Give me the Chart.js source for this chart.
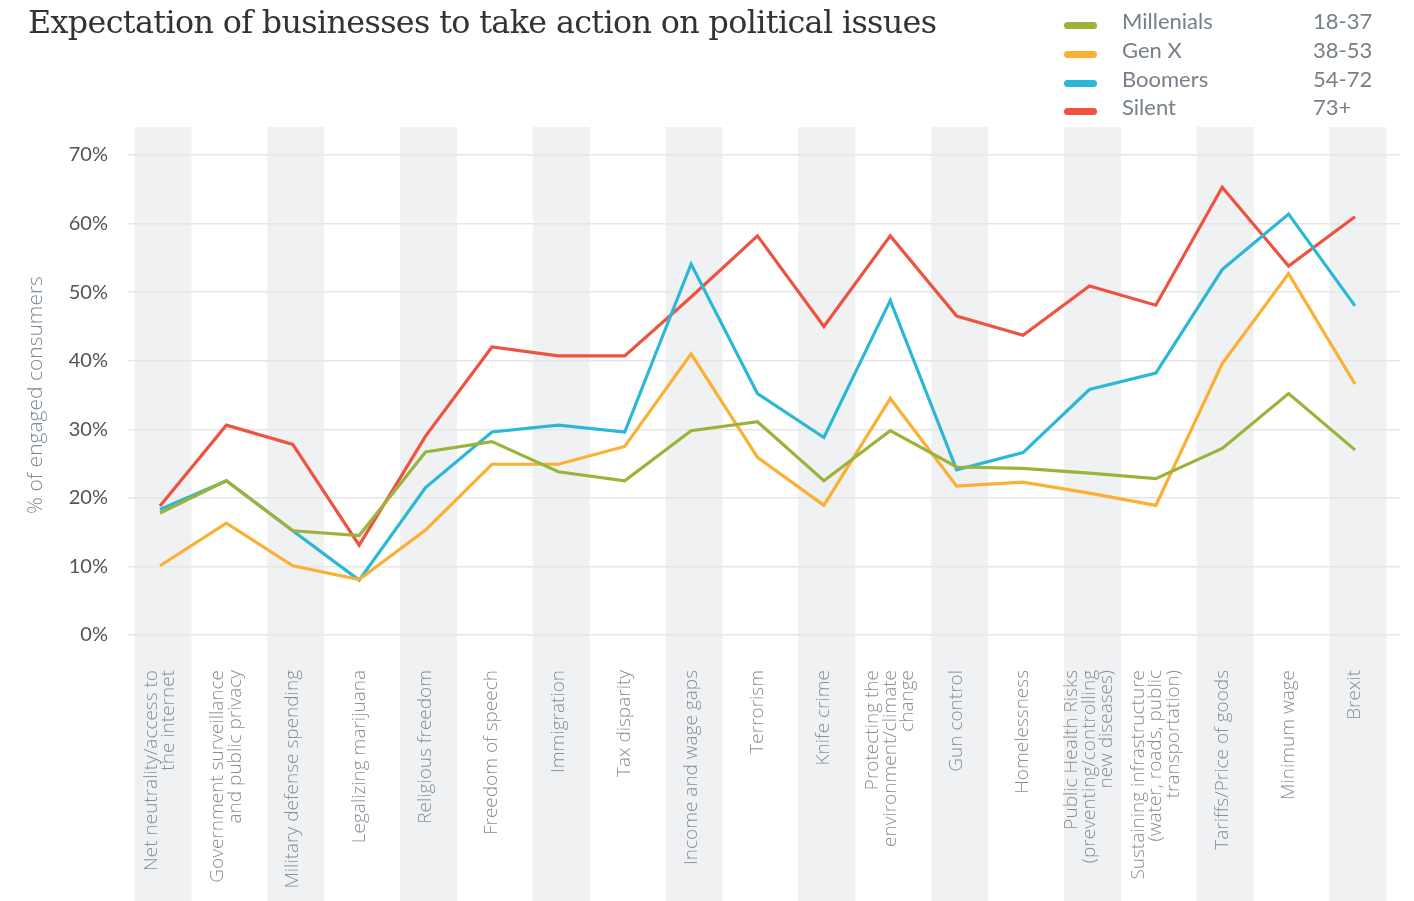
<!DOCTYPE html>
<html>
<head>
<meta charset="utf-8">
<script src="https://cdn.jsdelivr.net/npm/chart.js@4.4.1/dist/chart.umd.min.js"></script>
<style>
    html, body { margin: 0; padding: 0; background: #fff; }
    #wrap { position: relative; width: 1414px; height: 901px; overflow: hidden; }
    #chart { position: absolute; left: 0; top: 0; }
    h1 {
        position: absolute; left: 28px; top: 3px; margin: 0;
        font-family: "DejaVu Serif"; font-weight: normal; font-size: 31.8px;
        color: #333; letter-spacing: -0.65px; white-space: nowrap;
    }
    #legend { position: absolute; left: 1064px; top: 7px; font-family: Lato; font-size: 22px; color: #76808a; }
    .row { position: relative; height: 28.8px; width: 340px; }
    .sw { position: absolute; left: 0; top: 15px; width: 33px; height: 7px; border-radius: 4px; }
    .nm { position: absolute; left: 58px; top: 0; }
    .ag { position: absolute; left: 249px; top: 0; }
</style>
</head>
<body>
<div id="wrap">
    <canvas id="chart" width="1414" height="901"></canvas>
    <h1>Expectation of businesses to take action on political issues</h1>
    <div id="legend"></div>
</div>
<script>
// ===============================
// DATA
// ===============================
const categories = [
    ["Net neutrality/access to", "the internet"],
    ["Government surveillance", "and public privacy"],
    "Military defense spending",
    "Legalizing marijuana",
    "Religious freedom",
    "Freedom of speech",
    "Immigration",
    "Tax disparity",
    "Income and wage gaps",
    "Terrorism",
    "Knife crime",
    ["Protecting the", "environment/climate", "change"],
    "Gun control",
    "Homelessness",
    ["Public Health Risks", "(preventing/controlling", "new diseases)"],
    ["Sustaining infrastructure", "(water, roads, public", "transportation)"],
    "Tariffs/Price of goods",
    "Minimum wage",
    "Brexit"
];

const seriesNames = ["Millenials", "Gen X", "Boomers", "Silent"];
const ageRanges = ["18-37", "38-53", "54-72", "73+"];
const seriesColors = ["#9cb33b", "#fbb034", "#2bb8d8", "#ee5340"];

const millenials = [17.8, 22.5, 15.2, 14.5, 26.7, 28.2, 23.8, 22.5, 29.8, 31.1, 22.5, 29.8, 24.5, 24.3, 23.6, 22.8, 27.2, 35.2, 27.0];
const genX       = [10.1, 16.3, 10.1, 8.1, 15.3, 24.9, 24.9, 27.5, 41.0, 25.9, 18.9, 34.5, 21.7, 22.3, 20.7, 18.9, 39.6, 52.7, 36.6];
const boomers    = [18.3, 22.5, 15.2, 8.0, 21.5, 29.6, 30.6, 29.6, 54.1, 35.2, 28.8, 48.8, 24.1, 26.6, 35.8, 38.2, 53.3, 61.4, 48.0];
const silent     = [18.8, 30.6, 27.8, 13.1, 29.0, 42.0, 40.7, 40.7, 49.3, 58.2, 45.0, 58.2, 46.5, 43.7, 50.9, 48.1, 65.3, 53.8, 61.0];

const yTicks = [0, 10, 20, 30, 40, 50, 60, 70];

const allSeries = [millenials, genX, boomers, silent];

// ===============================
// LEGEND (HTML)
// ===============================
const legendEl = document.getElementById("legend");
seriesNames.forEach((name, i) => {
    const row = document.createElement("div");
    row.className = "row";
    row.innerHTML = '<span class="sw" style="background:' + seriesColors[i] + '"></span>' +
        '<span class="nm">' + name + '</span><span class="ag">' + ageRanges[i] + '</span>';
    legendEl.appendChild(row);
});

// ===============================
// PLUGINS
// ===============================
const LABEL_SIZE = 19;
const LABEL_LINE = 17.6;

// gray stripes behind every other category
const bandPlugin = {
    id: "bands",
    beforeDraw(chart) {
        const { ctx, scales: { x }, chartArea } = chart;
        ctx.save();
        ctx.fillStyle = "#f0f1f3";
        for (let i = 0; i < categories.length; i += 2) {
            const px = x.getPixelForValue(i) + 3;
            ctx.fillRect(px - 28.5, chartArea.top - 28, 57, chart.height - chartArea.top + 28);
        }
        ctx.restore();
    }
};

// center multi-line rotated labels on their tick
const centerLabels = {
    id: "centerLabels",
    beforeDraw(chart) {
        const items = chart.scales.x.getLabelItems(chart.chartArea);
        items.forEach(it => {
            if (it._shifted) return;
            const n = Array.isArray(it.label) ? it.label.length : 1;
            it.options.translation[0] -= (n - 1) * LABEL_LINE / 2;
            it._shifted = true;
        });
    }
};

// ===============================
// CHART
// ===============================
const ctx = document.getElementById("chart").getContext("2d");

new Chart(ctx, {
    type: "line",
    data: {
        datasets: allSeries.map((vals, i) => ({
            label: seriesNames[i],
            data: vals.map((v, j) => ({ x: j, y: v })),
            borderColor: seriesColors[i],
            borderWidth: 3.2,
            pointRadius: 0,
            tension: 0,
            fill: false
        }))
    },
    options: {
        responsive: false,
        animation: false,
        devicePixelRatio: 1,
        layout: { padding: { top: 155, right: 14, left: 0, bottom: 0 } },
        plugins: {
            legend: { display: false },
            tooltip: { enabled: false }
        },
        scales: {
            x: {
                type: "linear",
                min: -0.482,
                max: 18.678,
                afterFit: s => { s.height = 266; },
                grid: { display: false, drawTicks: false },
                border: { display: false },
                ticks: {
                    stepSize: 1,
                    includeBounds: false,
                    autoSkip: false,
                    maxRotation: 90,
                    minRotation: 90,
                    padding: 35,
                    color: "#868f98",
                    font: { family: "'Open Sans'", weight: 300, size: LABEL_SIZE, lineHeight: LABEL_LINE / LABEL_SIZE },
                    callback: v => Number.isInteger(v) ? categories[v] : ""
                }
            },
            y: {
                min: yTicks[0],
                max: yTicks[yTicks.length - 1],
                afterFit: s => { s.width = 128; },
                afterBuildTicks: s => { s.ticks = yTicks.map(v => ({ value: v })); },
                grid: { color: "#e6e6e6", lineWidth: 1.5, drawTicks: false },
                border: { display: false },
                ticks: {
                    padding: 20,
                    color: "#4f555b",
                    font: { family: "Lato", size: 20 },
                    callback: v => v + "%"
                },
                title: {
                    display: true,
                    text: "% of engaged consumers",
                    color: "#7d8994",
                    padding: { top: 23, bottom: 0 },
                    font: { family: "'Open Sans'", weight: 300, size: 21, lineHeight: 1.2 }
                }
            }
        }
    },
    plugins: [bandPlugin, centerLabels]
});
</script>
</body>
</html>
